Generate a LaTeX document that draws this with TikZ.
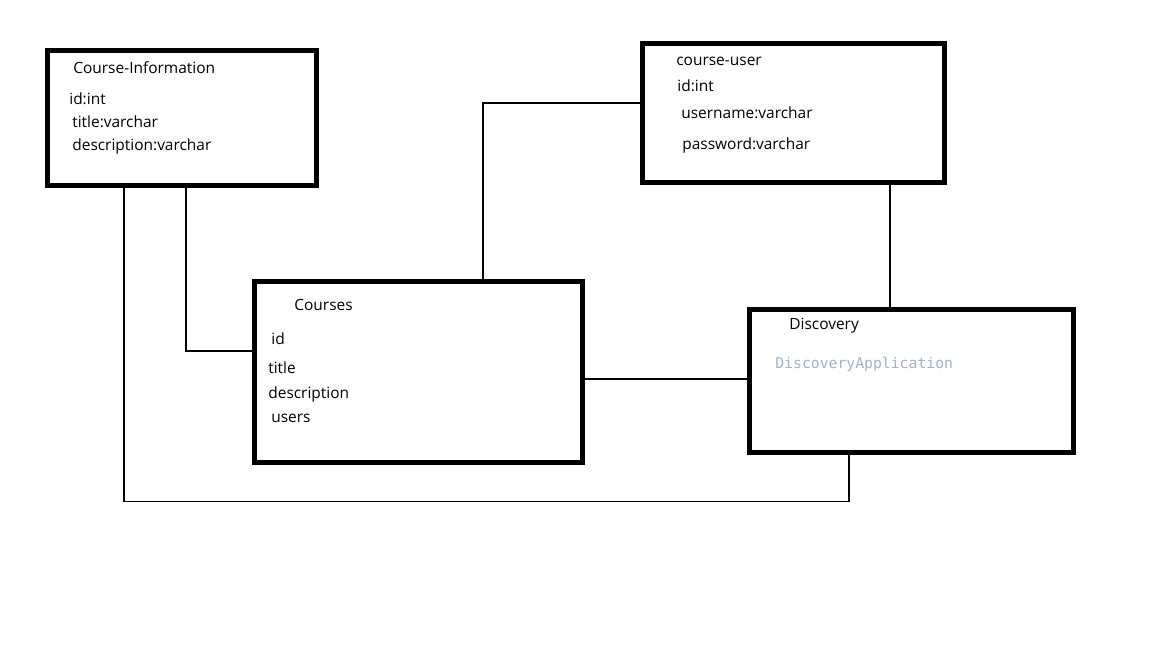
\documentclass[tikz,border=0pt]{standalone}
\usepackage{fontspec}
\setmainfont{Open Sans}
\newfontfamily\codefont{DejaVu Sans Mono}
\usepackage{tikz}
\usetikzlibrary{positioning,calc}
\definecolor{codegray}{RGB}{163,178,198}

\begin{document}
\begin{tikzpicture}[x=0.02cm,y=-0.02cm,
  tbl/.style={draw=black,line width=0.1cm,fill=white,inner sep=0pt,outer sep=0pt},
  fld/.style={anchor=base west,inner sep=0pt,font=\fontsize{8.8}{10}\selectfont},
  code/.style={anchor=base west,inner sep=0pt,font=\codefont\fontsize{8.4}{10}\selectfont,text=codegray},
  link/.style={draw=black,line width=0.6pt}]
  \fill[white] (0,0) rectangle (1152,648);
  \useasboundingbox (0,0) rectangle (1152,648);
  % tables
  \node[tbl,minimum width=5.4cm,minimum height=2.72cm]  (info)    at (182,118)   {};
  \node[tbl,minimum width=6.06cm,minimum height=2.8cm]  (cuser)   at (793.5,113) {};
  \node[tbl,minimum width=6.58cm,minimum height=3.64cm] (courses) at (418.5,372) {};
  \node[tbl,minimum width=6.5cm,minimum height=2.88cm]  (disc)    at (911.5,381) {};
  % Course-Information
  \node[fld] (infoT) at (73,73.6)  {Course-Information};
  \node[fld] (infoA) at (69,104.6) {id:int};
  \node[fld] (infoB) at (72,127.6) {title:varchar};
  \node[fld] (infoC) at (72,151)   {description:varchar};
  % course-user
  \node[fld] (cuserT) at (676,65.5)  {course-user};
  \node[fld] (cuserA) at (677,91.6) {id:int};
  \node[fld] (cuserB) at (681,118.6) {username:varchar};
  \node[fld] (cuserC) at (682,150) {password:varchar};
  % Courses
  \node[fld] (coursesT) at (294,310.6) {Courses};
  \node[fld] (coursesA) at (271,344.6) {id};
  \node[fld] (coursesB) at (268,373.6) {title};
  \node[fld] (coursesC) at (268,398.6) {description};
  \node[fld] (coursesD) at (271,422.5) {users};
  % Discovery
  \node[fld]  (discT) at (789,329.6) {Discovery};
  \node[code] (discA) at (775,368)   {DiscoveryApplication};
  % connectors
  \coordinate (k1) at (186,351);
  \coordinate (k2) at (483,103);
  \coordinate (k3) at (890,250);
  \coordinate (k4) at (600,379);
  \coordinate (k5) at (124,502);
  \coordinate (k6) at (849,501.5);
  \draw[link] (info.south -| k1) |- (courses.west |- k1);
  \draw[link] (courses.north -| k2) |- (cuser.west |- k2);
  \draw[link] (cuser.south -| k3) -- (disc.north -| k3);
  \draw[link] (courses.east |- k4) -- (disc.west |- k4);
  \draw[link] (info.south -| k5) |- (k6) -- (disc.south -| k6);
\end{tikzpicture}
\end{document}
